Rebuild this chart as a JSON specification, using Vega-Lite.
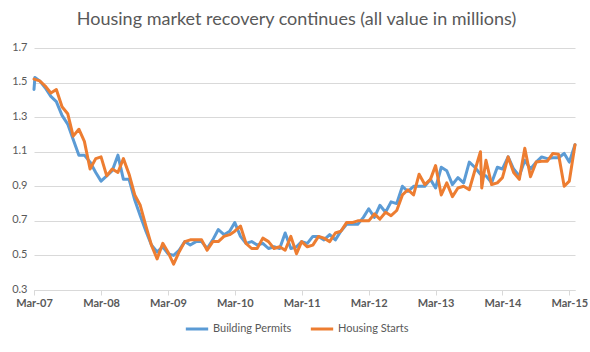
{
  "$schema": "https://vega.github.io/schema/vega-lite/v6.json",
  "width": 541,
  "height": 242,
  "autosize": "none",
  "padding": {"left": 34, "top": 48, "right": 15, "bottom": 62},
  "background": "white",
  "config": {"view": {"stroke": null}, "font": "Lato"},
  "title": {
    "text": "Housing market recovery continues (all value in millions)",
    "fontSize": 18,
    "font": "Lato",
    "fontWeight": "normal",
    "color": "#595959",
    "anchor": "middle",
    "frame": "group",
    "dx": -8,
    "dy": 23,
    "offset": 21,
    "baseline": "alphabetic"
  },
  "data": {
    "values": [
      {"date": "2007/03/01", "series": "Building Permits", "value": 1.46},
      {"date": "2007/03/06", "series": "Building Permits", "value": 1.53},
      {"date": "2007/04/01", "series": "Building Permits", "value": 1.51},
      {"date": "2007/05/01", "series": "Building Permits", "value": 1.47},
      {"date": "2007/06/01", "series": "Building Permits", "value": 1.42},
      {"date": "2007/07/01", "series": "Building Permits", "value": 1.39},
      {"date": "2007/08/01", "series": "Building Permits", "value": 1.31},
      {"date": "2007/09/01", "series": "Building Permits", "value": 1.26},
      {"date": "2007/10/01", "series": "Building Permits", "value": 1.17},
      {"date": "2007/11/01", "series": "Building Permits", "value": 1.08},
      {"date": "2007/12/01", "series": "Building Permits", "value": 1.08},
      {"date": "2008/01/01", "series": "Building Permits", "value": 1.04},
      {"date": "2008/02/01", "series": "Building Permits", "value": 0.98},
      {"date": "2008/03/01", "series": "Building Permits", "value": 0.93},
      {"date": "2008/04/01", "series": "Building Permits", "value": 0.96},
      {"date": "2008/05/01", "series": "Building Permits", "value": 0.99},
      {"date": "2008/06/01", "series": "Building Permits", "value": 1.08},
      {"date": "2008/07/01", "series": "Building Permits", "value": 0.94},
      {"date": "2008/08/01", "series": "Building Permits", "value": 0.94},
      {"date": "2008/09/01", "series": "Building Permits", "value": 0.82},
      {"date": "2008/10/01", "series": "Building Permits", "value": 0.73},
      {"date": "2008/11/01", "series": "Building Permits", "value": 0.64},
      {"date": "2008/12/01", "series": "Building Permits", "value": 0.56},
      {"date": "2009/01/01", "series": "Building Permits", "value": 0.52},
      {"date": "2009/02/01", "series": "Building Permits", "value": 0.55},
      {"date": "2009/03/01", "series": "Building Permits", "value": 0.51},
      {"date": "2009/04/01", "series": "Building Permits", "value": 0.50},
      {"date": "2009/05/01", "series": "Building Permits", "value": 0.53},
      {"date": "2009/06/01", "series": "Building Permits", "value": 0.58},
      {"date": "2009/07/01", "series": "Building Permits", "value": 0.56},
      {"date": "2009/08/01", "series": "Building Permits", "value": 0.58},
      {"date": "2009/09/01", "series": "Building Permits", "value": 0.58},
      {"date": "2009/10/01", "series": "Building Permits", "value": 0.54},
      {"date": "2009/11/01", "series": "Building Permits", "value": 0.59},
      {"date": "2009/12/01", "series": "Building Permits", "value": 0.65},
      {"date": "2010/01/01", "series": "Building Permits", "value": 0.62},
      {"date": "2010/02/01", "series": "Building Permits", "value": 0.64},
      {"date": "2010/03/01", "series": "Building Permits", "value": 0.69},
      {"date": "2010/04/01", "series": "Building Permits", "value": 0.61},
      {"date": "2010/05/01", "series": "Building Permits", "value": 0.57},
      {"date": "2010/06/01", "series": "Building Permits", "value": 0.58},
      {"date": "2010/07/01", "series": "Building Permits", "value": 0.56},
      {"date": "2010/08/01", "series": "Building Permits", "value": 0.57},
      {"date": "2010/09/01", "series": "Building Permits", "value": 0.54},
      {"date": "2010/10/01", "series": "Building Permits", "value": 0.55},
      {"date": "2010/11/01", "series": "Building Permits", "value": 0.54},
      {"date": "2010/12/01", "series": "Building Permits", "value": 0.63},
      {"date": "2011/01/01", "series": "Building Permits", "value": 0.54},
      {"date": "2011/02/01", "series": "Building Permits", "value": 0.55},
      {"date": "2011/03/01", "series": "Building Permits", "value": 0.58},
      {"date": "2011/04/01", "series": "Building Permits", "value": 0.57},
      {"date": "2011/05/01", "series": "Building Permits", "value": 0.61},
      {"date": "2011/06/01", "series": "Building Permits", "value": 0.61},
      {"date": "2011/07/01", "series": "Building Permits", "value": 0.59},
      {"date": "2011/08/01", "series": "Building Permits", "value": 0.62},
      {"date": "2011/09/01", "series": "Building Permits", "value": 0.59},
      {"date": "2011/10/01", "series": "Building Permits", "value": 0.64},
      {"date": "2011/11/01", "series": "Building Permits", "value": 0.68},
      {"date": "2011/12/01", "series": "Building Permits", "value": 0.68},
      {"date": "2012/01/01", "series": "Building Permits", "value": 0.68},
      {"date": "2012/02/01", "series": "Building Permits", "value": 0.72},
      {"date": "2012/03/01", "series": "Building Permits", "value": 0.77},
      {"date": "2012/04/01", "series": "Building Permits", "value": 0.72},
      {"date": "2012/05/01", "series": "Building Permits", "value": 0.79},
      {"date": "2012/06/01", "series": "Building Permits", "value": 0.75},
      {"date": "2012/07/01", "series": "Building Permits", "value": 0.81},
      {"date": "2012/08/01", "series": "Building Permits", "value": 0.80},
      {"date": "2012/09/01", "series": "Building Permits", "value": 0.90},
      {"date": "2012/10/01", "series": "Building Permits", "value": 0.87},
      {"date": "2012/11/01", "series": "Building Permits", "value": 0.90},
      {"date": "2012/12/01", "series": "Building Permits", "value": 0.90},
      {"date": "2013/01/01", "series": "Building Permits", "value": 0.90},
      {"date": "2013/02/01", "series": "Building Permits", "value": 0.94},
      {"date": "2013/03/01", "series": "Building Permits", "value": 0.89},
      {"date": "2013/04/01", "series": "Building Permits", "value": 1.01},
      {"date": "2013/05/01", "series": "Building Permits", "value": 0.99},
      {"date": "2013/06/01", "series": "Building Permits", "value": 0.91},
      {"date": "2013/07/01", "series": "Building Permits", "value": 0.95},
      {"date": "2013/08/01", "series": "Building Permits", "value": 0.92},
      {"date": "2013/09/01", "series": "Building Permits", "value": 1.04},
      {"date": "2013/10/01", "series": "Building Permits", "value": 1.01},
      {"date": "2013/11/01", "series": "Building Permits", "value": 0.97},
      {"date": "2013/12/01", "series": "Building Permits", "value": 0.96},
      {"date": "2014/01/01", "series": "Building Permits", "value": 0.92},
      {"date": "2014/02/01", "series": "Building Permits", "value": 1.01},
      {"date": "2014/03/01", "series": "Building Permits", "value": 1.00},
      {"date": "2014/04/01", "series": "Building Permits", "value": 1.07},
      {"date": "2014/05/01", "series": "Building Permits", "value": 1.00},
      {"date": "2014/06/01", "series": "Building Permits", "value": 0.96},
      {"date": "2014/07/01", "series": "Building Permits", "value": 1.05},
      {"date": "2014/08/01", "series": "Building Permits", "value": 1.00},
      {"date": "2014/09/01", "series": "Building Permits", "value": 1.04},
      {"date": "2014/10/01", "series": "Building Permits", "value": 1.07},
      {"date": "2014/11/01", "series": "Building Permits", "value": 1.06},
      {"date": "2014/12/01", "series": "Building Permits", "value": 1.065},
      {"date": "2015/01/01", "series": "Building Permits", "value": 1.065},
      {"date": "2015/02/01", "series": "Building Permits", "value": 1.09},
      {"date": "2015/03/01", "series": "Building Permits", "value": 1.04},
      {"date": "2015/04/01", "series": "Building Permits", "value": 1.14},
      {"date": "2007/03/01", "series": "Housing Starts", "value": 1.52},
      {"date": "2007/04/01", "series": "Housing Starts", "value": 1.51},
      {"date": "2007/05/01", "series": "Housing Starts", "value": 1.48},
      {"date": "2007/06/01", "series": "Housing Starts", "value": 1.44},
      {"date": "2007/07/01", "series": "Housing Starts", "value": 1.46},
      {"date": "2007/08/01", "series": "Housing Starts", "value": 1.36},
      {"date": "2007/09/01", "series": "Housing Starts", "value": 1.32},
      {"date": "2007/10/01", "series": "Housing Starts", "value": 1.19},
      {"date": "2007/11/01", "series": "Housing Starts", "value": 1.23},
      {"date": "2007/12/01", "series": "Housing Starts", "value": 1.16},
      {"date": "2008/01/01", "series": "Housing Starts", "value": 1.00},
      {"date": "2008/02/01", "series": "Housing Starts", "value": 1.06},
      {"date": "2008/03/01", "series": "Housing Starts", "value": 1.07},
      {"date": "2008/04/01", "series": "Housing Starts", "value": 0.96},
      {"date": "2008/05/01", "series": "Housing Starts", "value": 1.00},
      {"date": "2008/06/01", "series": "Housing Starts", "value": 0.98},
      {"date": "2008/07/01", "series": "Housing Starts", "value": 1.06},
      {"date": "2008/08/01", "series": "Housing Starts", "value": 0.97},
      {"date": "2008/09/01", "series": "Housing Starts", "value": 0.85},
      {"date": "2008/10/01", "series": "Housing Starts", "value": 0.79},
      {"date": "2008/11/01", "series": "Housing Starts", "value": 0.67},
      {"date": "2008/12/01", "series": "Housing Starts", "value": 0.56},
      {"date": "2009/01/01", "series": "Housing Starts", "value": 0.48},
      {"date": "2009/02/01", "series": "Housing Starts", "value": 0.57},
      {"date": "2009/03/01", "series": "Housing Starts", "value": 0.52},
      {"date": "2009/04/01", "series": "Housing Starts", "value": 0.45},
      {"date": "2009/05/01", "series": "Housing Starts", "value": 0.52},
      {"date": "2009/06/01", "series": "Housing Starts", "value": 0.58},
      {"date": "2009/07/01", "series": "Housing Starts", "value": 0.59},
      {"date": "2009/08/01", "series": "Housing Starts", "value": 0.59},
      {"date": "2009/09/01", "series": "Housing Starts", "value": 0.59},
      {"date": "2009/10/01", "series": "Housing Starts", "value": 0.53},
      {"date": "2009/11/01", "series": "Housing Starts", "value": 0.58},
      {"date": "2009/12/01", "series": "Housing Starts", "value": 0.58},
      {"date": "2010/01/01", "series": "Housing Starts", "value": 0.61},
      {"date": "2010/02/01", "series": "Housing Starts", "value": 0.62},
      {"date": "2010/03/01", "series": "Housing Starts", "value": 0.64},
      {"date": "2010/04/01", "series": "Housing Starts", "value": 0.67},
      {"date": "2010/05/01", "series": "Housing Starts", "value": 0.57},
      {"date": "2010/06/01", "series": "Housing Starts", "value": 0.54},
      {"date": "2010/07/01", "series": "Housing Starts", "value": 0.54},
      {"date": "2010/08/01", "series": "Housing Starts", "value": 0.60},
      {"date": "2010/09/01", "series": "Housing Starts", "value": 0.58},
      {"date": "2010/10/01", "series": "Housing Starts", "value": 0.54},
      {"date": "2010/11/01", "series": "Housing Starts", "value": 0.55},
      {"date": "2010/12/01", "series": "Housing Starts", "value": 0.53},
      {"date": "2011/01/01", "series": "Housing Starts", "value": 0.61},
      {"date": "2011/02/01", "series": "Housing Starts", "value": 0.51},
      {"date": "2011/03/01", "series": "Housing Starts", "value": 0.58},
      {"date": "2011/04/01", "series": "Housing Starts", "value": 0.55},
      {"date": "2011/05/01", "series": "Housing Starts", "value": 0.56},
      {"date": "2011/06/01", "series": "Housing Starts", "value": 0.61},
      {"date": "2011/07/01", "series": "Housing Starts", "value": 0.60},
      {"date": "2011/08/01", "series": "Housing Starts", "value": 0.58},
      {"date": "2011/09/01", "series": "Housing Starts", "value": 0.63},
      {"date": "2011/10/01", "series": "Housing Starts", "value": 0.64},
      {"date": "2011/11/01", "series": "Housing Starts", "value": 0.69},
      {"date": "2011/12/01", "series": "Housing Starts", "value": 0.69},
      {"date": "2012/01/01", "series": "Housing Starts", "value": 0.70},
      {"date": "2012/02/01", "series": "Housing Starts", "value": 0.70},
      {"date": "2012/03/01", "series": "Housing Starts", "value": 0.70},
      {"date": "2012/04/01", "series": "Housing Starts", "value": 0.74},
      {"date": "2012/05/01", "series": "Housing Starts", "value": 0.71},
      {"date": "2012/06/01", "series": "Housing Starts", "value": 0.75},
      {"date": "2012/07/01", "series": "Housing Starts", "value": 0.73},
      {"date": "2012/08/01", "series": "Housing Starts", "value": 0.76},
      {"date": "2012/09/01", "series": "Housing Starts", "value": 0.85},
      {"date": "2012/10/01", "series": "Housing Starts", "value": 0.88},
      {"date": "2012/11/01", "series": "Housing Starts", "value": 0.85},
      {"date": "2012/12/01", "series": "Housing Starts", "value": 0.97},
      {"date": "2013/01/01", "series": "Housing Starts", "value": 0.91},
      {"date": "2013/02/01", "series": "Housing Starts", "value": 0.94},
      {"date": "2013/03/01", "series": "Housing Starts", "value": 1.02},
      {"date": "2013/04/01", "series": "Housing Starts", "value": 0.85},
      {"date": "2013/05/01", "series": "Housing Starts", "value": 0.92},
      {"date": "2013/06/01", "series": "Housing Starts", "value": 0.84},
      {"date": "2013/07/01", "series": "Housing Starts", "value": 0.89},
      {"date": "2013/08/01", "series": "Housing Starts", "value": 0.90},
      {"date": "2013/09/01", "series": "Housing Starts", "value": 0.88},
      {"date": "2013/10/01", "series": "Housing Starts", "value": 0.99},
      {"date": "2013/11/01", "series": "Housing Starts", "value": 1.10},
      {"date": "2013/11/08", "series": "Housing Starts", "value": 0.89},
      {"date": "2013/12/01", "series": "Housing Starts", "value": 1.05},
      {"date": "2014/01/01", "series": "Housing Starts", "value": 0.91},
      {"date": "2014/02/01", "series": "Housing Starts", "value": 0.92},
      {"date": "2014/03/01", "series": "Housing Starts", "value": 0.95},
      {"date": "2014/04/01", "series": "Housing Starts", "value": 1.07},
      {"date": "2014/05/01", "series": "Housing Starts", "value": 0.98},
      {"date": "2014/06/01", "series": "Housing Starts", "value": 0.94},
      {"date": "2014/07/01", "series": "Housing Starts", "value": 1.12},
      {"date": "2014/08/01", "series": "Housing Starts", "value": 0.955},
      {"date": "2014/09/01", "series": "Housing Starts", "value": 1.04},
      {"date": "2014/10/01", "series": "Housing Starts", "value": 1.045},
      {"date": "2014/11/01", "series": "Housing Starts", "value": 1.045},
      {"date": "2014/12/01", "series": "Housing Starts", "value": 1.09},
      {"date": "2015/01/01", "series": "Housing Starts", "value": 1.085},
      {"date": "2015/02/01", "series": "Housing Starts", "value": 0.90},
      {"date": "2015/03/01", "series": "Housing Starts", "value": 0.93},
      {"date": "2015/04/01", "series": "Housing Starts", "value": 1.14}
    ]
  },
  "mark": {"type": "line", "strokeWidth": 3, "strokeJoin": "round", "strokeCap": "round"},
  "encoding": {
    "x": {
      "field": "date",
      "type": "temporal",
      "scale": {"domain": [{"year": 2007, "month": 3, "date": 1}, {"year": 2015, "month": 4, "date": 1}]},
      "axis": {
        "title": null,
        "grid": false,
        "values": [
          {"year": 2007, "month": 3, "date": 1},
          {"year": 2008, "month": 3, "date": 1},
          {"year": 2009, "month": 3, "date": 1},
          {"year": 2010, "month": 3, "date": 1},
          {"year": 2011, "month": 3, "date": 1},
          {"year": 2012, "month": 3, "date": 1},
          {"year": 2013, "month": 3, "date": 1},
          {"year": 2014, "month": 3, "date": 1},
          {"year": 2015, "month": 3, "date": 1}
        ],
        "format": "%b-%y",
        "labelFont": "Lato",
        "labelFontSize": 11,
        "labelFontWeight": "bold",
        "labelColor": "#595959",
        "labelOverlap": false,
        "labelFlush": false,
        "labelPadding": 2,
        "domainColor": "#d9d9d9",
        "domainWidth": 1,
        "tickColor": "#d9d9d9",
        "tickSize": 5
      }
    },
    "y": {
      "field": "value",
      "type": "quantitative",
      "scale": {"domain": [0.3, 1.7], "nice": false, "zero": false},
      "axis": {
        "title": null,
        "values": [0.3, 0.5, 0.7, 0.9, 1.1, 1.3, 1.5, 1.7],
        "format": ".1f",
        "domain": false,
        "ticks": false,
        "gridColor": "#d9d9d9",
        "gridWidth": 1,
        "labelFont": "Lato",
        "labelFontSize": 11,
        "labelColor": "#595959",
        "labelPadding": 7,
        "labelOffset": -1
      }
    },
    "color": {
      "field": "series",
      "type": "nominal",
      "scale": {"domain": ["Building Permits", "Housing Starts"], "range": ["#5B9BD5", "#ED7D31"]},
      "legend": {
        "title": null,
        "orient": "none",
        "legendX": 150,
        "legendY": 268,
        "direction": "horizontal",
        "symbolType": "stroke",
        "symbolStrokeWidth": 3,
        "symbolSize": 500,
        "labelFont": "Lato",
        "labelFontSize": 11,
        "labelColor": "#595959",
        "labelOffset": 3,
        "columnPadding": 12
      }
    }
  }
}
